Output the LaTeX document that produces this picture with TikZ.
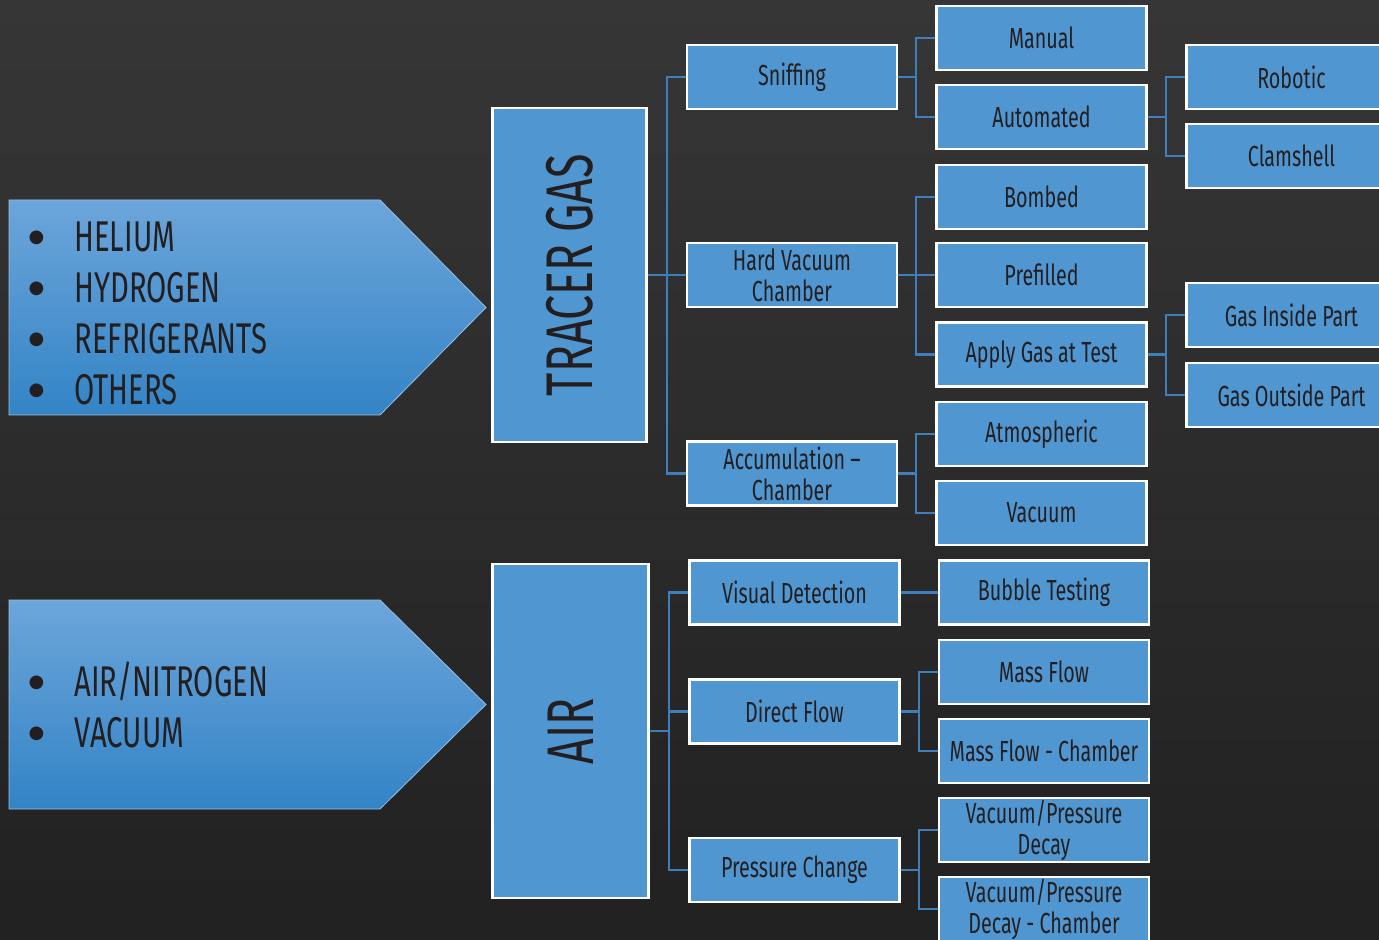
\documentclass[tikz,border=0pt]{standalone}
\usepackage{fontspec}
\setmainfont[FakeStretch=0.68]{Fira Sans}
\newfontfamily\dotfont{DejaVu Sans}
\usetikzlibrary{backgrounds}

\definecolor{bgtop}{RGB}{54,54,54}
\definecolor{bgbottom}{RGB}{34,33,34}
\definecolor{boxblue}{RGB}{80,150,209}
\definecolor{linkblue}{RGB}{62,126,186}
\definecolor{inktext}{RGB}{35,31,32}
\definecolor{arrowtop}{RGB}{108,165,218}
\definecolor{arrowbottom}{RGB}{51,132,198}

\tikzset{
  leakbox/.style={draw=white, line width=1.2pt, fill=boxblue, text=inktext,
    minimum width=105pt, minimum height=32pt, inner sep=0pt, align=center,
    font=\fontsize{14.5}{15.5}\selectfont},
  groupbox/.style={leakbox, rotate=90, minimum width=167pt, minimum height=77pt,
    font=\fontsize{33}{36}\selectfont},
  link/.style={draw=linkblue, line width=1.1pt},
  gasarrow/.style={top color=arrowtop, bottom color=arrowbottom,
    draw=arrowtop!70!white, line width=0.4pt},
  gaslist/.style={anchor=west, align=left, inner sep=0pt, text=inktext,
    font=\fontsize{21.5}{25.5}\selectfont},
}
\newcommand{\gasitem}{\llap{\smash{\raisebox{4.3pt}{\dotfont\fontsize{9}{9}\selectfont ●}}\hspace{15pt}}}

\begin{document}
\begin{tikzpicture}[x=0.5pt,y=0.5pt]
    \useasboundingbox (0,0) rectangle (1379,-940);
    \clip (0,0) rectangle (1379,-940);

    % input gases
    \path[gasarrow] (9,-200) -- (380,-200) -- (486,-307.5) -- (380,-415) -- (9,-415) -- cycle;
    \path[gasarrow] (9,-600) -- (380,-600) -- (486,-704.5) -- (380,-809) -- (9,-809) -- cycle;
    \node[gaslist] (tracerlist) at (74,-313.5) {\gasitem HELIUM\\\gasitem HYDROGEN\\\gasitem REFRIGERANTS\\\gasitem OTHERS};
    \node[gaslist] (airlist) at (74,-705) {\gasitem AIR/NITROGEN\\\gasitem VACUUM};

    % groups
    \node[groupbox] (tracer) at (569.5,-275) {TRACER GAS};
    \node[groupbox, minimum height=78pt] (air) at (570.5,-731) {AIR};

    % methods
    \node[leakbox] (sniffing) at (792,-77) {Sniffing};
    \node[leakbox] (hardvac) at (792,-275) {Hard Vacuum\\Chamber};
    \node[leakbox] (accum) at (792,-473.5) {Accumulation --\\Chamber};
    \node[leakbox] (visual) at (794.5,-592.5) {Visual Detection};
    \node[leakbox] (direct) at (794.5,-711.5) {Direct Flow};
    \node[leakbox] (pressure) at (794.5,-870) {Pressure Change};

    % variants
    \node[leakbox] (manual) at (1041.5,-38) {Manual};
    \node[leakbox] (automated) at (1041.5,-117) {Automated};
    \node[leakbox] (bombed) at (1041.5,-197) {Bombed};
    \node[leakbox] (prefilled) at (1041.5,-275) {Prefilled};
    \node[leakbox] (applygas) at (1041.5,-354.5) {Apply Gas at Test};
    \node[leakbox] (atmos) at (1041.5,-434) {Atmospheric};
    \node[leakbox] (vacuum) at (1041.5,-513) {Vacuum};
    \node[leakbox] (bubble) at (1044,-592.5) {Bubble Testing};
    \node[leakbox] (massflow) at (1044,-672) {Mass Flow};
    \node[leakbox] (mfchamber) at (1044,-751) {Mass Flow - Chamber};
    \node[leakbox] (vpdecay) at (1044,-830) {Vacuum/Pressure\\Decay};
    \node[leakbox] (vpdchamber) at (1044,-909) {Vacuum/Pressure\\Decay - Chamber};

    % sub-variants
    \node[leakbox] (robotic) at (1291.5,-77) {Robotic};
    \node[leakbox] (clamshell) at (1291.5,-156) {Clamshell};
    \node[leakbox] (gasin) at (1291.5,-315) {Gas Inside Part};
    \node[leakbox] (gasout) at (1291.5,-395) {Gas Outside Part};

    % bus points
    \coordinate (tracerbus) at (667,-275);
    \coordinate (sniffbus) at (916,-77);
    \coordinate (hardbus) at (916,-275);
    \coordinate (accumbus) at (916,-473.5);
    \coordinate (autobus) at (1166,-117);
    \coordinate (applybus) at (1166,-354.5);
    \coordinate (airbus) at (669,-731);
    \coordinate (directbus) at (919,-711.5);
    \coordinate (pressbus) at (919,-870);

    \begin{scope}[on background layer]
    \shade[top color=bgtop, bottom color=bgbottom] (0,0) rectangle (1379,-940);
    \draw[link] (tracer.south) -- (tracerbus);
    \draw[link] (sniffing.west) -| (tracerbus) (accum.west) -| (tracerbus) (hardvac.west) -- (tracerbus);
    \draw[link] (sniffing.east) -- (sniffbus) (manual.west) -| (sniffbus) (automated.west) -| (sniffbus);
    \draw[link] (hardvac.east) -- (prefilled.west) (bombed.west) -| (hardbus) (applygas.west) -| (hardbus);
    \draw[link] (accum.east) -- (accumbus) (atmos.west) -| (accumbus) (vacuum.west) -| (accumbus);
    \draw[link] (automated.east) -- (autobus) (robotic.west) -| (autobus) (clamshell.west) -| (autobus);
    \draw[link] (applygas.east) -- (applybus) (gasin.west) -| (applybus) (gasout.west) -| (applybus);
    \draw[link] (air.south) -- (airbus);
    \draw[link] (visual.west) -| (airbus) (direct.west) -| (airbus) (pressure.west) -| (airbus);
    \draw[link] (visual.east) -- (bubble.west);
    \draw[link] (direct.east) -- (directbus) (massflow.west) -| (directbus) (mfchamber.west) -| (directbus);
    \draw[link] (pressure.east) -- (pressbus) (vpdecay.west) -| (pressbus) (vpdchamber.west) -| (pressbus);
    \end{scope}
\end{tikzpicture}
\end{document}
